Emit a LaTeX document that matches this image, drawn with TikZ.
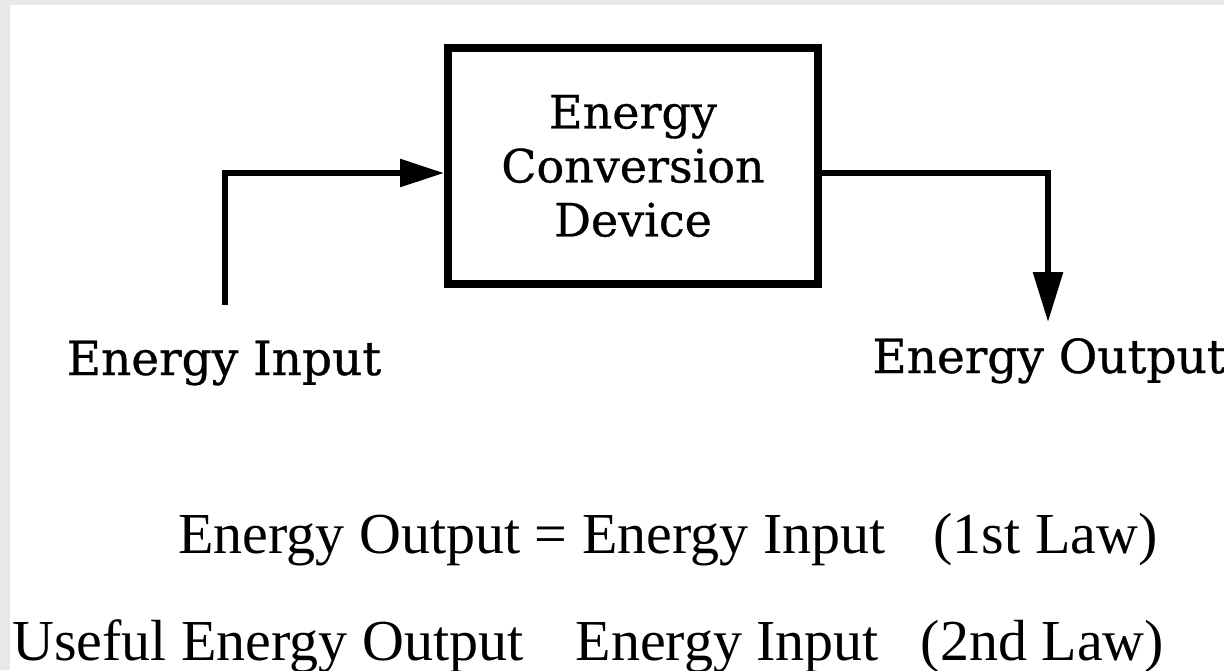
\documentclass[tikz,border=0pt]{standalone}
\usepackage{fontspec}
\usetikzlibrary{arrows.meta}
\newfontfamily\topfont[FakeBold=0.6]{DejaVu Serif}
\newfontfamily\eqfont{Liberation Serif}
\definecolor{edgegray}{HTML}{E8E8E8}
\tikzset{
  devbox/.style={draw, line width=4pt, minimum width=185pt, minimum height=118pt,
    align=center, inner sep=0pt, font=\topfont\fontsize{23}{27}\selectfont},
  conn/.style={line width=3pt},
  lbl/.style={inner sep=0pt, font=\topfont\fontsize{23.5}{27}\selectfont},
  eqn/.style={inner sep=0pt, anchor=base west, font=\eqfont\fontsize{29}{34}\selectfont}
}
\begin{document}
\begin{tikzpicture}[x=0.5pt,y=-0.5pt]
\useasboundingbox (0,0) rectangle (1224,670);
\fill[white] (0,0) rectangle (1224,670);
\fill[edgegray] (0,0) rectangle (1224,5);
\fill[edgegray] (0,0) rectangle (10,670);

\node[devbox] (box) at (633,166) {Energy\\Conversion\\Device};

\coordinate (inStart) at (225,305);
\coordinate (outEnd) at (1048,322);
\draw[conn, -{Triangle[length=22pt,width=13.5pt]}] (inStart) |- ([yshift=-3.5pt]box.west);
\draw[conn, -{Triangle[length=25pt,width=14.5pt]}] ([yshift=-3.5pt]box.east) -| (outEnd);

\node[lbl, anchor=base] (inLbl) at (224,375) {Energy Input};
\node[lbl, anchor=base west] (outLbl) at (872,373) {Energy Output};

\node[eqn] (law1) at (178,553) {Energy Output = Energy Input\hspace{24pt}(1st Law)};
\node[eqn] (law2) at (12,660) {Useful Energy Output\hspace{26pt}Energy Input\hspace{21pt}(2nd Law)};
\end{tikzpicture}
\end{document}
